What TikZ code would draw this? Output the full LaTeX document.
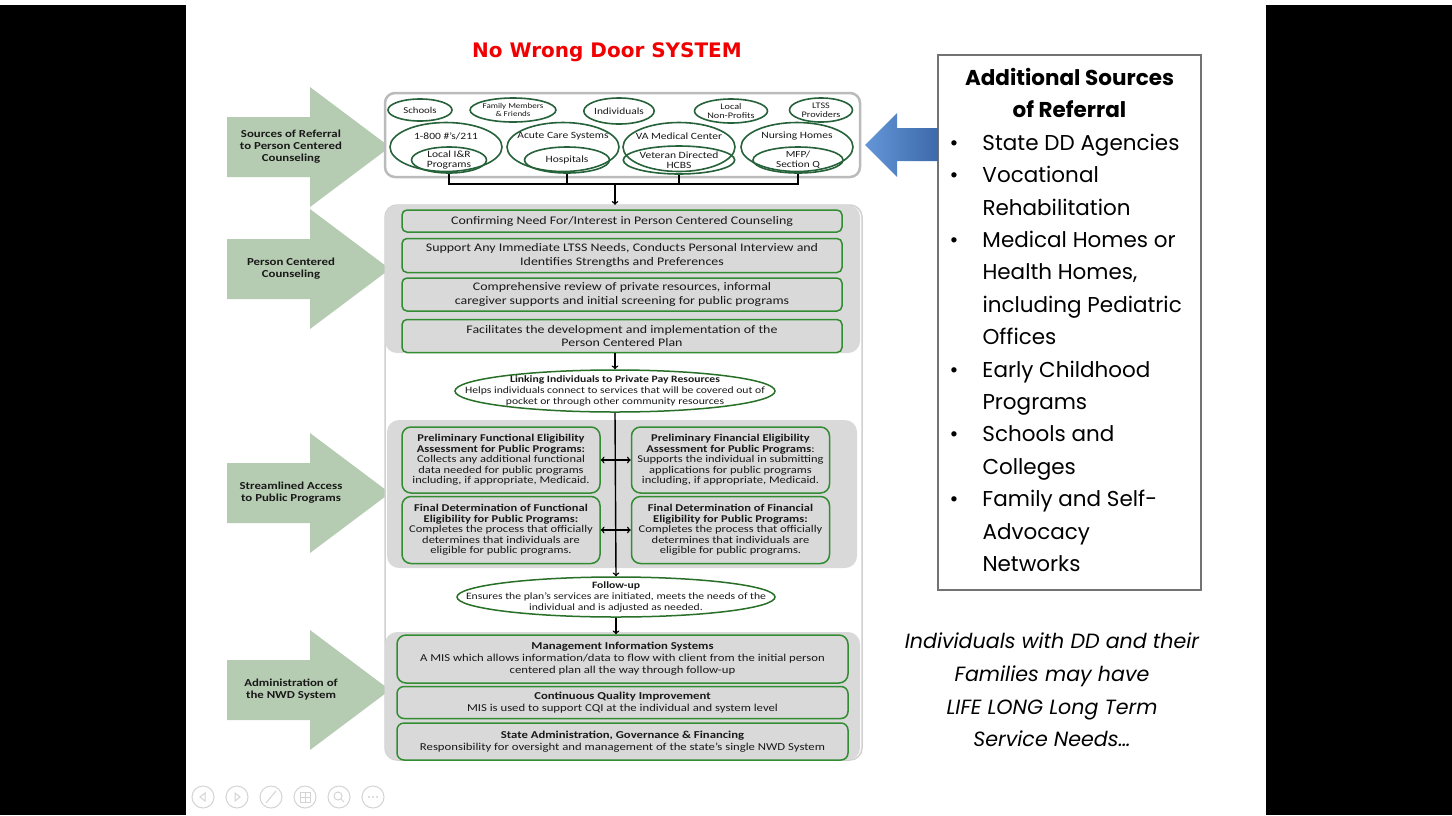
\documentclass[tikz,border=0pt]{standalone}
\usepackage{fontspec}
\setmainfont{Carlito}[FakeStretch=1.2]
\newfontfamily\titlefont{DejaVu Sans}
\newfontfamily\gothic{Poppins}
\usetikzlibrary{positioning, shapes.geometric}

\definecolor{ellgreen}{RGB}{38,98,58}
\definecolor{boxgreen}{RGB}{50,140,50}
\definecolor{secgray}{RGB}{217,217,217}
\definecolor{framegray}{RGB}{208,208,208}
\definecolor{sidegreen}{RGB}{182,204,178}
\definecolor{titlered}{RGB}{240,0,0}
\definecolor{blueleft}{RGB}{100,150,215}
\definecolor{blueright}{RGB}{60,105,170}
\definecolor{txtgray}{RGB}{25,25,25}
\definecolor{icongray}{RGB}{212,212,212}

\newcommand\blt{\makebox[33pt][l]{\textbullet}}
\newcommand\ind{\hspace*{33pt}}

\begin{document}
\begin{tikzpicture}[
    x=1pt, y=-1pt,
    srcell/.style={
        ellipse,
        draw=ellgreen,
        line width=1.6pt,
        inner sep=0pt,
        align=center,
        text=txtgray,
    },
    section/.style={
        rounded corners=12pt,
        fill=secgray,
        inner sep=0pt,
    },
    stepbox/.style={
        draw=boxgreen,
        line width=1.5pt,
        rounded corners=5pt,
        fill=secgray,
        inner sep=0pt,
        align=center,
        text=txtgray,
    },
    linkell/.style={
        ellipse,
        draw=boxgreen!80!black,
        line width=1.5pt,
        fill=white,
        inner sep=0pt,
    },
    linktxt/.style={
        align=center,
        text=txtgray,
        font=\fontsize{9.7}{11}\selectfont,
    },
    sidelabel/.style={
        align=center,
        text=txtgray,
        font=\bfseries\fontsize{10.7}{12}\selectfont,
    },
    bracket/.style={
        line width=2.6pt,
    },
    arrow/.style={
        ->,
        line width=1.4pt,
    },
    dbl/.style={
        <->,
        line width=1.4pt,
    },
    icon/.style={
        draw=icongray,
        line width=1pt,
    },
]

    \useasboundingbox (0,0) rectangle (1452,815);
    \fill[white] (0,0) rectangle (1452,815);
    \fill[black] (0,5) rectangle (186,815);
    \fill[black] (1266,5) rectangle (1452,815);

    \node[text=titlered, font=\titlefont\bfseries\fontsize{20}{22}\selectfont] (title) at (607,52) {No Wrong Door SYSTEM};

    % side arrows
    \foreach \y/\txt [count=\i] in {87/{Sources of Referral\\to Person Centered\\Counseling},
                                    209/{Person Centered\\Counseling},
                                    433/{Streamlined Access\\to Public Programs},
                                    630/{Administration of\\the NWD System}} {
        \fill[sidegreen] (227,\y+30) -- (310,\y+30) -- (310,\y) -- (390,\y+60)
            -- (310,\y+120) -- (310,\y+90) -- (227,\y+90) -- cycle;
        \node[sidelabel] (side\i) at (291,\y+60) {\txt};
    }

    % sources of referral
    \node[draw=framegray!90!black, line width=2.5pt, rounded corners=10pt, fill=white,
          minimum width=475pt, minimum height=84pt] (refsec) at (622.5,135) {};

    \node[srcell, minimum width=64pt, minimum height=22pt, font=\fontsize{9}{10}\selectfont] (school) at (420,110) {Schools};
    \node[srcell, minimum width=83pt, minimum height=24pt, font=\fontsize{7.5}{8.5}\selectfont] (family) at (513,110) {Family Members\\\& Friends};
    \node[srcell, minimum width=68pt, minimum height=26pt, font=\fontsize{9.5}{10}\selectfont] (indiv) at (619,111) {Individuals};
    \node[srcell, minimum width=73pt, minimum height=24pt, font=\fontsize{8.5}{9.5}\selectfont] (nonprof) at (731,111) {Local\\Non-Profits};
    \node[srcell, minimum width=63pt, minimum height=24pt, font=\fontsize{8.5}{9}\selectfont] (ltss) at (821,110) {LTSS\\Providers};

    \node[srcell, minimum width=112pt, minimum height=49pt] (tel) at (446,147) {};
    \node[srcell, minimum width=112pt, minimum height=49pt] (acute) at (563,147) {};
    \node[srcell, minimum width=112pt, minimum height=49pt] (vamc) at (679,147) {};
    \node[srcell, minimum width=112pt, minimum height=49pt] (nursing) at (797,147) {};
    \node[text=txtgray, font=\fontsize{9.6}{11}\selectfont] (tel_txt) at (446,136) {1-800 \#'s/211};
    \node[text=txtgray, font=\fontsize{9.6}{11}\selectfont] (acute_txt) at (563,136) {Acute Care Systems};
    \node[text=txtgray, font=\fontsize{9.6}{11}\selectfont] (vamc_txt) at (679,136) {VA Medical Center};
    \node[text=txtgray, font=\fontsize{9.6}{11}\selectfont] (nursing_txt) at (797,136) {Nursing Homes};

    \node[srcell, minimum width=75pt, minimum height=26pt, font=\fontsize{9.6}{10}\selectfont] (ir) at (449,160) {Local I\&R\\Programs};
    \node[srcell, minimum width=85pt, minimum height=26pt, font=\fontsize{9.6}{11}\selectfont] (hosp) at (567,160) {Hospitals};
    \node[srcell, minimum width=88pt, minimum height=28pt, font=\fontsize{9.6}{10}\selectfont] (vdh) at (679,160) {Veteran Directed\\HCBS};
    \node[srcell, minimum width=90pt, minimum height=26pt, font=\fontsize{9.4}{10.5}\selectfont] (mfp) at (798,160) {MFP/\\Section Q};
    \coordinate (join) at (615,184);

    % sections
    \node[draw=framegray, line width=1.5pt, rounded corners=12pt, fill=white,
          minimum width=477pt, minimum height=555pt] (frame) at (623.5,482.5) {};
    \node[section, minimum width=475pt, minimum height=148pt] (pccsec) at (622.5,279) {};
    \node[section, minimum width=470pt, minimum height=148pt] (accsec) at (622,494) {};
    \node[section, minimum width=475pt, minimum height=128pt] (admsec) at (622.5,696) {};

    % person centered counseling
    \node[stepbox, minimum width=440pt, minimum height=22pt, font=\fontsize{11.6}{13.3}\selectfont] (pcc1) at (622,221)
        {Confirming Need For/Interest in Person Centered Counseling};
    \node[stepbox, minimum width=440pt, minimum height=34pt, font=\fontsize{11.6}{13.3}\selectfont, below=5pt of pcc1] (pcc2)
        {Support Any Immediate LTSS Needs, Conducts Personal Interview and\\Identifies Strengths and Preferences};
    \node[stepbox, minimum width=440pt, minimum height=33pt, font=\fontsize{11.6}{13.3}\selectfont, below=4pt of pcc2] (pcc3)
        {Comprehensive review of private resources, informal\\caregiver supports and initial screening for public programs};
    \node[stepbox, minimum width=440pt, minimum height=33pt, font=\fontsize{11.6}{13.3}\selectfont, below=7pt of pcc3] (pcc4)
        {Facilitates the development and implementation of the\\Person Centered Plan};

    \node[linkell, minimum width=320pt, minimum height=42pt] (link) at (615,391) {};
    \node[linktxt] (link_txt) at (link.center)
        {\textbf{Linking Individuals to Private Pay Resources}\\Helps individuals connect to services that will be covered out of\\pocket or through other community resources};

    % streamlined access
    \node[stepbox, rounded corners=9pt, minimum width=198pt, minimum height=66pt, font=\fontsize{10.4}{10.6}\selectfont] (pfe) at (501,460)
        {\textbf{Preliminary Functional Eligibility}\\\textbf{Assessment for Public Programs:}\\Collects any additional functional\\data needed for public programs\\including, if appropriate, Medicaid.};
    \node[stepbox, rounded corners=9pt, minimum width=198pt, minimum height=66pt, font=\fontsize{10.4}{10.6}\selectfont, right=30pt of pfe] (pfin)
        {\textbf{Preliminary Financial Eligibility}\\\textbf{Assessment for Public Programs}:\\Supports the individual in submitting\\applications for public programs\\including, if appropriate, Medicaid.};
    \node[stepbox, rounded corners=9pt, minimum width=198pt, minimum height=67pt, font=\fontsize{10.4}{10.6}\selectfont, below=2pt of pfe] (ffe)
        {\textbf{Final Determination of Functional}\\\textbf{Eligibility for Public Programs:}\\Completes the process that officially\\determines that individuals are\\eligible for public programs.};
    \node[stepbox, rounded corners=9pt, minimum width=198pt, minimum height=67pt, font=\fontsize{10.4}{10.6}\selectfont, below=2pt of pfin] (ffin)
        {\textbf{Final Determination of Financial}\\\textbf{Eligibility for Public Programs:}\\Completes the process that officially\\determines that individuals are\\eligible for public programs.};

    \node[linkell, minimum width=318pt, minimum height=40pt] (follow) at (616,597) {};
    \node[linktxt] (follow_txt) at (follow.center)
        {\textbf{Follow-up}\\Ensures the plan’s services are initiated, meets the needs of the\\individual and is adjusted as needed.};

    % administration
    \node[stepbox, rounded corners=9pt, minimum width=451pt, minimum height=48pt, font=\fontsize{10.6}{12}\selectfont] (mis) at (622.5,659)
        {\textbf{Management Information Systems}\\A MIS which allows information/data to flow with client from the initial person\\centered plan all the way through follow-up};
    \node[stepbox, rounded corners=7pt, minimum width=451pt, minimum height=32pt, font=\fontsize{10.6}{12}\selectfont, below=2pt of mis] (cqi)
        {\textbf{Continuous Quality Improvement}\\MIS is used to support CQI at the individual and system level};
    \node[stepbox, rounded corners=7pt, minimum width=451pt, minimum height=37pt, font=\fontsize{10.6}{12}\selectfont, below=3pt of cqi] (state)
        {\textbf{State Administration, Governance \& Financing}\\Responsibility for oversight and management of the state’s single NWD System};

    % additional sources
    \node[draw=black!55, line width=1.2pt, align=left, inner xsep=11.5pt, inner ysep=0pt,
          minimum width=263pt, minimum height=535pt,
          font=\gothic\fontsize{21.5}{32.4}\selectfont] (addsrc) at (1069.5,322.5) {%
        \makebox[240pt][c]{\bfseries Additional Sources}\\
        \makebox[240pt][c]{\bfseries of Referral}\\
        \blt State DD Agencies\\
        \blt Vocational\\
        \ind Rehabilitation\\
        \blt Medical Homes or\\
        \ind Health Homes,\\
        \ind including Pediatric\\
        \ind Offices\\
        \blt Early Childhood\\
        \ind Programs\\
        \blt Schools and\\
        \ind Colleges\\
        \blt Family and Self-\\
        \ind Advocacy\\
        \ind Networks\vspace*{5pt}};
    \shade[left color=blueleft, right color=blueright] (938,128) -- (897,128) -- (897,113) -- (865,145)
        -- (897,177) -- (897,161) -- (938,161) -- cycle;

    \node[align=center, font=\gothic\itshape\fontsize{20.6}{32.6}\selectfont] (lifelong) at (1052,690)
        {Individuals with DD and their\\Families may have\\LIFE LONG Long Term\\Service Needs…};

    % Draw arrows
    \draw[bracket] (ir.south) -- (ir.south |- join) -- (mfp.south |- join) -- (mfp.south);
    \draw[bracket] (hosp.south) -- (hosp.south |- join);
    \draw[bracket] (vdh.south) -- (vdh.south |- join);
    \draw[arrow] (join) -- (join |- pccsec.north);
    \draw[arrow] (pccsec.south -| link) -- (link.north);
    \draw[arrow] (link.south) -- (follow.north);
    \draw[dbl] (pfe) -- (pfin);
    \draw[dbl] (ffe) -- (ffin);
    \draw[arrow] (follow.south) -- (mis.north -| follow);

    % slide controls
    \foreach \cx in {203,237,271,305,339,373}
        \draw[icon] (\cx,797) circle[radius=11pt];
    \draw[icon] (205,793) -- (200,797) -- (205,801) -- cycle;
    \draw[icon] (235,793) -- (240,797) -- (235,801) -- cycle;
    \draw[icon] (266,803) -- (276,791);
    \draw[icon] (300,792) rectangle (310,802);
    \draw[icon] (305,792) -- (305,802) (300,797) -- (310,797);
    \draw[icon] (338,796) circle[radius=4pt];
    \draw[icon] (341,799) -- (344,802);
    \foreach \dx in {-4,0,4}
        \fill[icongray] (373+\dx,797) circle[radius=1.2pt];

\end{tikzpicture}
\end{document}
